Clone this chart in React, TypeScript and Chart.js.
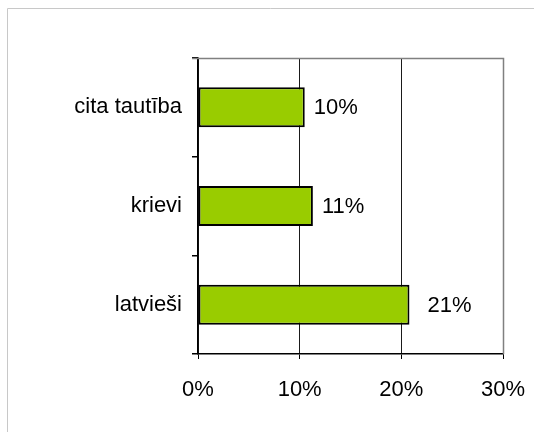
import React, { useEffect, useRef } from "react";
import { Chart, registerables } from "chart.js";

Chart.register(...registerables);

const categories = ["cita tautība", "krievi", "latvieši"];
const values = [10.5, 11.3, 20.8];
const valueLabels = ["10%", "11%", "21%"];
const xTicks = [0, 10, 20, 30];

const labelOffsets = [9, 9, 18];
const FONT = "'Liberation Sans', Arial, sans-serif";

const framePlugin = {
  id: "frame",
  beforeDraw(chart: any) {
    const ctx = chart.ctx;
    ctx.save();
    ctx.strokeStyle = "#c8c8c8";
    ctx.lineWidth = 1;
    ctx.beginPath();
    ctx.moveTo(7.5, 432);
    ctx.lineTo(7.5, 8.5);
    ctx.lineTo(534, 8.5);
    ctx.stroke();
    ctx.restore();
  },
  beforeDatasetsDraw(chart: any) {
    const { ctx, chartArea } = chart;
    ctx.save();
    ctx.strokeStyle = "#808080";
    ctx.lineWidth = 1.5;
    ctx.beginPath();
    ctx.moveTo(chartArea.left - 6, Math.round(chartArea.top) + 0.5);
    ctx.lineTo(Math.round(chartArea.right) + 0.5, Math.round(chartArea.top) + 0.5);
    ctx.lineTo(Math.round(chartArea.right) + 0.5, chartArea.bottom);
    ctx.stroke();
    ctx.restore();
  },
  afterDatasetsDraw(chart: any) {
    const { ctx } = chart;
    const meta = chart.getDatasetMeta(0);
    ctx.save();
    ctx.fillStyle = "#000";
    ctx.font = `22px ${FONT}`;
    ctx.textAlign = "left";
    ctx.textBaseline = "middle";
    meta.data.forEach((bar: any, i: number) => {
      ctx.fillText(valueLabels[i], bar.x + labelOffsets[i], bar.y + 1);
    });
    ctx.restore();
  },
};

export default function App() {
  const ref = useRef<HTMLCanvasElement>(null);
  useEffect(() => {
    if (!ref.current) return;
    const chart = new Chart(ref.current, {
      type: "bar",
      data: {
        labels: categories,
        datasets: [
          {
            data: values,
            backgroundColor: "#99CC00",
            borderColor: "#000000",
            borderWidth: 2,
            borderSkipped: false,
            categoryPercentage: 1,
            barPercentage: 0.405,
          },
        ],
      },
      options: {
        indexAxis: "y",
        animation: false,
        responsive: false,
        maintainAspectRatio: false,
        layout: { padding: { left: 0, top: 58, right: 31, bottom: 0 } },
        plugins: { legend: { display: false }, tooltip: { enabled: false } },
        scales: {
          x: {
            min: 0,
            max: 30,
            afterBuildTicks: (s: any) => {
              s.ticks = xTicks.map((v) => ({ value: v }));
            },
            afterFit: (s: any) => {
              s.height = 78;
              s.paddingLeft = 0;
              s.paddingRight = 0;
            },
            ticks: {
              callback: (v: any) => v + "%",
              color: "#000",
              font: { family: FONT, size: 22 },
              padding: 18,
              maxRotation: 0,
            },
            grid: {
              color: (c: any) => (c.tick && c.tick.value === 30 ? "#808080" : "#1a1a1a"),
              lineWidth: 1,
              tickLength: 5,
              tickColor: "#000",
            },
            border: { color: "#000", width: 1.5 },
          },
          y: {
            afterFit: (s: any) => {
              s.width = 198;
              s.paddingTop = 0;
              s.paddingBottom = 0;
            },
            ticks: {
              color: "#000",
              font: { family: FONT, size: 22 },
              padding: 10,
            },
            grid: {
              offset: true,
              drawOnChartArea: false,
              tickLength: 6,
              tickColor: "#000",
              lineWidth: 1.5,
            },
            border: { color: "#000", width: 1.5 },
          },
        },
      },
      plugins: [framePlugin],
    });
    return () => chart.destroy();
  }, []);
  return (
    <div style={{ position: "fixed", left: 0, top: 0, width: 534, height: 432, background: "#fff" }}>
      <canvas ref={ref} width={534} height={432} style={{ width: 534, height: 432 }} />
    </div>
  );
}
